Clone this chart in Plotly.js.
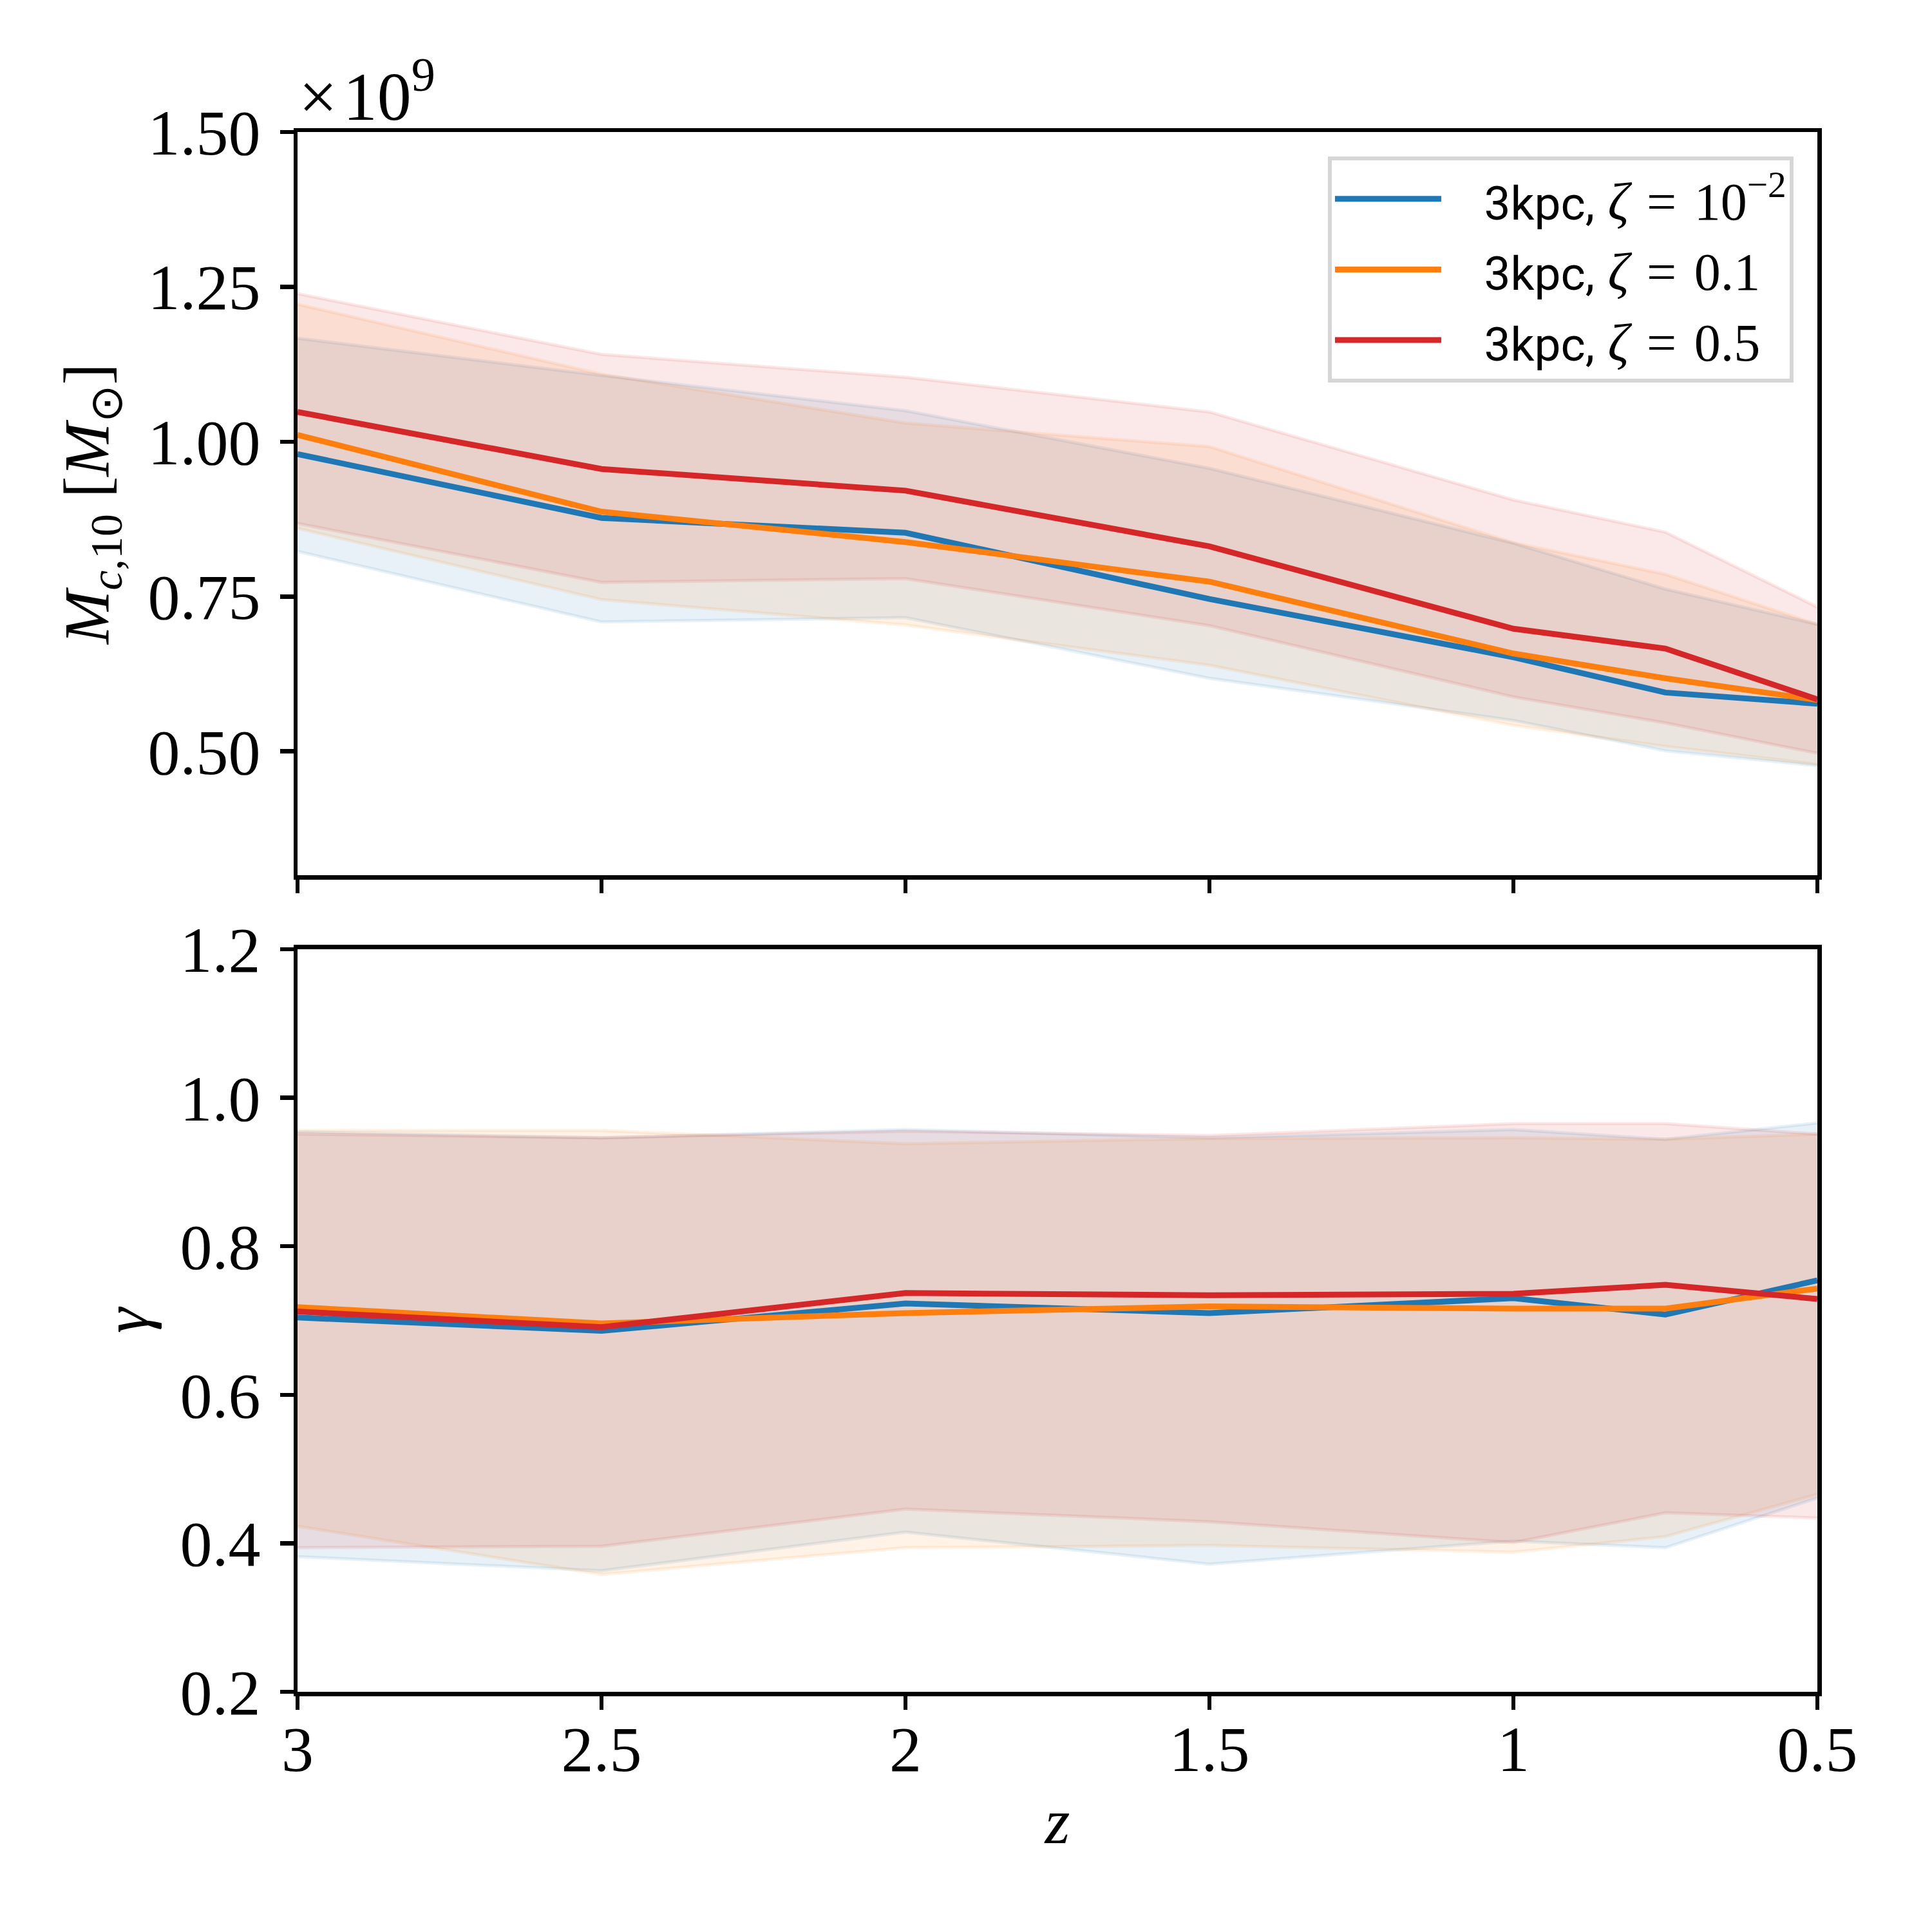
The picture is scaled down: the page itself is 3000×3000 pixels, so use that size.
<!DOCTYPE html>
<html>
<head>
<meta charset="utf-8">
<script src="https://cdn.plot.ly/plotly-3.0.1.min.js"></script>
<style>body{margin:0;background:#fff}</style>
</head>
<body>
<div id="chart" style="width:3000px;height:3000px"></div>
<script>
// redshift grid
const z = [3, 2.5, 2, 1.5, 1, 0.75, 0.5];

// Top panel: M_c,10 in units of 1e9 Msun
const mcBlue     = [0.980, 0.877, 0.853, 0.746, 0.652, 0.595, 0.577];
const mcBlueHi   = [1.167, 1.107, 1.050, 0.957, 0.836, 0.762, 0.705];
const mcBlueLo   = [0.823, 0.709, 0.716, 0.618, 0.550, 0.501, 0.477];
const mcOrange   = [1.011, 0.887, 0.838, 0.774, 0.658, 0.618, 0.583];
const mcOrangeHi = [1.222, 1.109, 1.030, 0.992, 0.837, 0.786, 0.705];
const mcOrangeLo = [0.860, 0.745, 0.704, 0.639, 0.542, 0.508, 0.479];
const mcRed      = [1.048, 0.956, 0.921, 0.831, 0.698, 0.666, 0.584];
const mcRedHi    = [1.239, 1.141, 1.104, 1.048, 0.906, 0.854, 0.733];
const mcRedLo    = [0.868, 0.773, 0.779, 0.703, 0.588, 0.546, 0.497];

// Bottom panel: gamma
const gBlue      = [0.704, 0.686, 0.723, 0.710, 0.730, 0.708, 0.754];
const gBlueHi    = [0.954, 0.946, 0.957, 0.946, 0.957, 0.944, 0.966];
const gBlueLo    = [0.382, 0.363, 0.415, 0.372, 0.403, 0.394, 0.461];
const gOrange    = [0.718, 0.696, 0.710, 0.719, 0.716, 0.716, 0.743];
const gOrangeHi  = [0.956, 0.956, 0.938, 0.945, 0.946, 0.944, 0.951];
const gOrangeLo  = [0.423, 0.358, 0.394, 0.397, 0.388, 0.409, 0.466];
const gRed       = [0.712, 0.691, 0.737, 0.734, 0.736, 0.748, 0.729];
const gRedHi     = [0.951, 0.946, 0.955, 0.949, 0.965, 0.965, 0.951];
const gRedLo     = [0.394, 0.396, 0.446, 0.429, 0.401, 0.441, 0.434];

const sansStyle = 'font-family:Roboto;font-size:73px';
const seriesNames = [
  '\u00a0\u00a0\u00a0<span style="' + sansStyle + '">3kpc,</span> <i>ζ</i>\u2004=\u200410<sup>−2</sup>',
  '\u00a0\u00a0\u00a0<span style="' + sansStyle + '">3kpc,</span> <i>ζ</i>\u2004=\u20040.1',
  '\u00a0\u00a0\u00a0<span style="' + sansStyle + '">3kpc,</span> <i>ζ</i>\u2004=\u20040.5'
];
const colors = ['#1f77b4', '#ff7f0e', '#d62728'];
const fills = ['rgba(31,119,180,0.1)', 'rgba(255,127,14,0.1)', 'rgba(214,39,40,0.1)'];

const topSets = [[mcBlue, mcBlueHi, mcBlueLo], [mcOrange, mcOrangeHi, mcOrangeLo], [mcRed, mcRedHi, mcRedLo]];
const botSets = [[gBlue, gBlueHi, gBlueLo], [gOrange, gOrangeHi, gOrangeLo], [gRed, gRedHi, gRedLo]];

const traces = [];
function addBands(sets, xa, ya) {
  sets.forEach((s, i) => {
    traces.push({x: z, y: s[1], xaxis: xa, yaxis: ya, mode: 'lines', showlegend: false, hoverinfo: 'skip',
      line: {color: fills[i], width: 5}});
    traces.push({x: z, y: s[2], xaxis: xa, yaxis: ya, mode: 'lines', fill: 'tonexty', fillcolor: fills[i],
      showlegend: false, hoverinfo: 'skip', line: {color: fills[i], width: 5}});
  });
}
function addLines(sets, xa, ya, legend) {
  sets.forEach((s, i) => {
    traces.push({x: z, y: s[0], xaxis: xa, yaxis: ya, mode: 'lines', name: seriesNames[i],
      showlegend: legend, line: {color: colors[i], width: 9}});
  });
}
addBands(topSets, 'x2', 'y2');
addBands(botSets, 'x', 'y');
addLines(topSets, 'x2', 'y2', true);
addLines(botSets, 'x', 'y', false);

const tickFont = {family: 'Liberation Serif', size: 100, color: '#000'};
const axisCommon = {
  showline: true, linecolor: '#000', linewidth: 6.5, mirror: true,
  ticks: 'outside', ticklen: 21, tickwidth: 6.5, tickcolor: '#000',
  showgrid: false, zeroline: false, tickfont: tickFont
};
const xTicks = [3, 2.5, 2, 1.5, 1, 0.5];
const xTickText = ['3', '2.5', '2', '1.5', '1', '0.5'];
const titleFont = {family: 'Liberation Serif', size: 100, color: '#000'};

const layout = {
  width: 3000, height: 3000,
  margin: {l: 462, r: 178, t: 205, b: 373},
  paper_bgcolor: '#fff', plot_bgcolor: '#fff',
  showlegend: true,
  xaxis: Object.assign({}, axisCommon, {
    domain: [0, 1], anchor: 'y', range: [3, 0.5], tickvals: xTicks, ticktext: xTickText,
    ticklabelstandoff: -25,
    title: {text: '<i>z</i>', font: titleFont, standoff: 24}
  }),
  yaxis: Object.assign({}, axisCommon, {
    domain: [0, 0.4761], anchor: 'x', range: [0.2, 1.2], tickvals: [0.2, 0.4, 0.6, 0.8, 1.0, 1.2],
    tickformat: '.1f', ticklabelstandoff: 10,
    title: {text: '<i>γ</i>', font: titleFont, standoff: 18}
  }),
  xaxis2: Object.assign({}, axisCommon, {
    domain: [0, 1], anchor: 'y2', range: [3, 0.5], tickvals: xTicks, showticklabels: false, matches: 'x'
  }),
  yaxis2: Object.assign({}, axisCommon, {
    domain: [0.5235, 1], anchor: 'x2', range: [0.3, 1.5], tickvals: [0.5, 0.75, 1.0, 1.25, 1.5],
    tickformat: '.2f', ticklabelstandoff: 10,
    title: {text: '<i>M</i><sub><i>c</i>,10</sub> [<i>M</i><sub>⊙</sub>]', font: titleFont, standoff: 30}
  }),
  legend: {
    x: 0.9843, xanchor: 'right', y: 0.9843, yanchor: 'top',
    traceorder: 'normal',
    bgcolor: 'rgba(255,255,255,0.8)', bordercolor: '#d6d6d6', borderwidth: 6,
    font: {family: 'Liberation Serif', size: 82, color: '#000'},
    itemwidth: 165
  },
  annotations: [{
    xref: 'paper', yref: 'paper', x: 0, y: 1, xanchor: 'left', yanchor: 'bottom', yshift: -6,
    text: '×\u200a10<sup>9</sup>', showarrow: false, font: {family: 'Liberation Serif', size: 106, color: '#000'}
  }]
};

Plotly.newPlot('chart', traces, layout, {staticPlot: true});
</script>
</body>
</html>
